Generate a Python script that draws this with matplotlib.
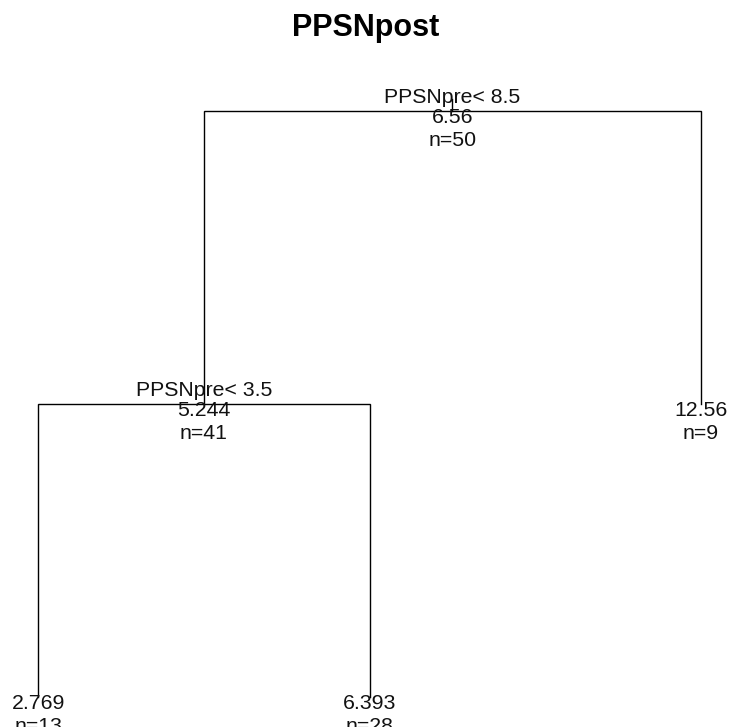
import matplotlib
matplotlib.use("Agg")
import matplotlib.pyplot as plt

plt.rcParams['font.family'] = ['Liberation Sans', 'DejaVu Sans']

# regression tree for PPSNpost (rpart-style node numbering)
node_ids = [1, 2, 3, 4, 5]
node_splits = ["PPSNpre< 8.5", "PPSNpre< 3.5", "", "", ""]
node_means = [6.56, 5.244, 12.56, 2.769, 6.393]
node_n = [50, 41, 9, 13, 28]
title = "PPSNpost"

ids = set(node_ids)


def depth(i):
    d = 0
    while i > 1:
        i //= 2
        d += 1
    return d


# leaves get x = 1, 2, 3 ... left to right; internal nodes sit between children
xpos = {}
counter = [0]


def place(i):
    if 2 * i in ids:
        place(2 * i)
        place(2 * i + 1)
        xpos[i] = (xpos[2 * i] + xpos[2 * i + 1]) / 2
    else:
        counter[0] += 1
        xpos[i] = counter[0]


place(1)
ypos = {i: -depth(i) for i in node_ids}

fig = plt.figure(figsize=(7.31, 7.27), dpi=100)
ax = fig.add_axes([0, 0, 1, 1])
ax.set_xlim(0.885, 3.0905)
ax.set_ylim(-2.102, 0.379)
ax.axis('off')

lw = 1.0
# short stub above the root
ax.plot([xpos[1], xpos[1]], [ypos[1], ypos[1] + 0.04], color='black', lw=lw)
for i in node_ids:
    if 2 * i in ids:
        l, r = 2 * i, 2 * i + 1
        ax.plot([xpos[l], xpos[l], xpos[r], xpos[r]],
                [ypos[l], ypos[i], ypos[i], ypos[r]],
                color='black', lw=lw, solid_joinstyle='miter')

fs = 15.3
px = 72 / 100  # pixels -> points
for i, split, mean, n in zip(node_ids, node_splits, node_means, node_n):
    x, y = xpos[i], ypos[i]
    if split:
        ax.annotate(split, (x, y), xytext=(0, 8 * px), textcoords='offset points',
                    ha='center', va='baseline', fontsize=fs, color='#111111',
                    annotation_clip=False)
    ax.annotate(f"{mean:.4g}", (x, y), xytext=(0, -12 * px), textcoords='offset points',
                ha='center', va='baseline', fontsize=fs, color='#111111',
                annotation_clip=False)
    ax.annotate(f"n={n}", (x, y), xytext=(0, -35 * px), textcoords='offset points',
                ha='center', va='baseline', fontsize=fs, color='#111111',
                annotation_clip=False)

fig.text(0.5, 1 - 36 / 727, title, ha='center', va='baseline',
         fontsize=22, fontweight='bold')

fig.savefig("out.png", dpi=100, facecolor='white')
